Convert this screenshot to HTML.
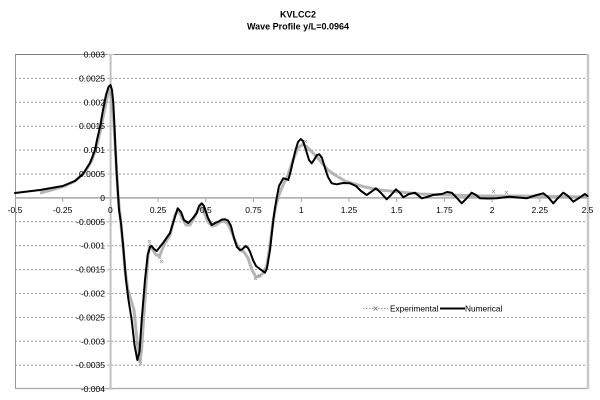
<!DOCTYPE html>
<html>
<head>
<meta charset="utf-8">
<style>
html,body{margin:0;padding:0;background:#fff;}
svg{display:block;}
text{font-family:"Liberation Sans",Arial,sans-serif;fill:#000;}
</style>
</head>
<body>
<svg width="600" height="400" viewBox="0 0 600 400" xmlns="http://www.w3.org/2000/svg">
<rect width="600" height="400" fill="#fff"/>
<!-- title -->
<text x="298" y="17.5" font-size="9" font-weight="bold" text-anchor="middle">KVLCC2</text>
<text x="298" y="29.5" font-size="9" font-weight="bold" text-anchor="middle">Wave Profile y/L=0.0964</text>

<!-- gridlines -->
<g stroke="#9a9a9a" stroke-width="1" stroke-dasharray="2,2">
<line x1="15" y1="78.4" x2="587" y2="78.4"/>
<line x1="15" y1="102.3" x2="587" y2="102.3"/>
<line x1="15" y1="126.2" x2="587" y2="126.2"/>
<line x1="15" y1="150.1" x2="587" y2="150.1"/>
<line x1="15" y1="174.0" x2="587" y2="174.0"/>
<line x1="15" y1="221.8" x2="587" y2="221.8"/>
<line x1="15" y1="245.7" x2="587" y2="245.7"/>
<line x1="15" y1="269.6" x2="587" y2="269.6"/>
<line x1="15" y1="293.5" x2="587" y2="293.5"/>
<line x1="15" y1="317.4" x2="587" y2="317.4"/>
<line x1="15" y1="341.3" x2="587" y2="341.3"/>
<line x1="15" y1="365.2" x2="587" y2="365.2"/>
</g>

<!-- plot border -->
<line x1="15" y1="54.5" x2="588" y2="54.5" stroke="#808080" stroke-width="1"/>
<line x1="15.5" y1="54.5" x2="15.5" y2="389" stroke="#999" stroke-width="1"/>
<line x1="15" y1="388.5" x2="588" y2="388.5" stroke="#aaa" stroke-width="1.2"/>
<line x1="588" y1="54" x2="588" y2="389" stroke="#c8c8c8" stroke-width="2.5"/>

<!-- axes -->
<line x1="15" y1="197.9" x2="588" y2="197.9" stroke="#a8a8a8" stroke-width="1.5"/>
<line x1="110.6" y1="54.5" x2="110.6" y2="389" stroke="#c0c0c0" stroke-width="2"/>

<!-- x ticks -->
<g stroke="#a8a8a8" stroke-width="1">
<line x1="15.5" y1="198" x2="15.5" y2="202"/>
<line x1="62.7" y1="198" x2="62.7" y2="202"/>
<line x1="158.1" y1="198" x2="158.1" y2="202"/>
<line x1="205.8" y1="198" x2="205.8" y2="202"/>
<line x1="253.5" y1="198" x2="253.5" y2="202"/>
<line x1="301.3" y1="198" x2="301.3" y2="202"/>
<line x1="349" y1="198" x2="349" y2="202"/>
<line x1="396.7" y1="198" x2="396.7" y2="202"/>
<line x1="444.4" y1="198" x2="444.4" y2="202"/>
<line x1="492.1" y1="198" x2="492.1" y2="202"/>
<line x1="539.8" y1="198" x2="539.8" y2="202"/>
</g>
<!-- y ticks -->
<g stroke="#c0c0c0" stroke-width="1">
<line x1="107" y1="54.5" x2="114" y2="54.5"/>
<line x1="107" y1="78.4" x2="114" y2="78.4"/>
<line x1="107" y1="102.3" x2="114" y2="102.3"/>
<line x1="107" y1="126.2" x2="114" y2="126.2"/>
<line x1="107" y1="150.1" x2="114" y2="150.1"/>
<line x1="107" y1="174.0" x2="114" y2="174.0"/>
<line x1="107" y1="221.8" x2="114" y2="221.8"/>
<line x1="107" y1="245.7" x2="114" y2="245.7"/>
<line x1="107" y1="269.6" x2="114" y2="269.6"/>
<line x1="107" y1="293.5" x2="114" y2="293.5"/>
<line x1="107" y1="317.4" x2="114" y2="317.4"/>
<line x1="107" y1="341.3" x2="114" y2="341.3"/>
<line x1="107" y1="365.2" x2="114" y2="365.2"/>
<line x1="107" y1="389" x2="114" y2="389"/>
</g>

<!-- experimental series (gray band with x markers) -->
<polyline fill="none" stroke="#a8a8a8" stroke-width="3" stroke-linejoin="round" opacity="0.85"
points="40,193 55,189 65,186 75,181 85,172 92,160 97,145 101,128 104,112 107,98 109.5,90 111,92 112.5,105 114,125 116,160 118,195 120,215 123,245 125,270 128,290 131,300 134,310 136,330 137.5,345 139,358 140,362 141.5,350 143.5,320 146,285 148,255 150,245 153,250 156,255 160,255 164,245 170,235 175,215 178,210 182,218 186,225 190,225 194,218 198,210 201,207 204,212 208,222 212,226 216,225 220,222 224,221 228,224 232,233 236,243 240,250 244,252 248,258 252,270 256,277 260,276 264,272 267,265 270,245 273,222 276,205 279,195 283,185 288,175 293,160 298,148 303,144 307,147 312,152 317,157 322,163 328,170 335,175 345,181 355,184 365,187 380,190 400,192 420,194 450,195 480,196 500,196 520,196 550,196.5 587,197"/>
<g stroke="#9a9a9a" stroke-width="0.8" fill="none">
<path d="M136,342l3,3m0,-3l-3,3 M138,358l3,3m0,-3l-3,3 M139,362l3,3m0,-3l-3,3 M148,240l3,3m0,-3l-3,3 M158,256l3,3m0,-3l-3,3 M160,260l3,3m0,-3l-3,3 M254,277l3,3m0,-3l-3,3 M258,274l3,3m0,-3l-3,3 M492,190l3,3m0,-3l-3,3 M505,191l3,3m0,-3l-3,3 M304,140l3,3m0,-3l-3,3 M126,290l3,3m0,-3l-3,3"/>
</g>

<!-- numerical series -->
<polyline fill="none" stroke="#000" stroke-width="2" stroke-linejoin="round" stroke-linecap="round"
points="15,193 40,190 62.7,186 75,181 83,174 90,163 95,150 97,140 100,127 103,110 106,95 108.5,87 110.5,85 112,90 113.3,103 114.5,127 115.5,150 116.7,174 118.3,198 119,210 121,223 123.5,250 126,280 128.5,300 131.7,320 134.5,345 137.3,360 139.5,352 141.7,320 145,280 147.7,255 150,247 151.7,246 154,249 156.7,251 163,243 170,233 174,220 177.7,208.3 181,212 184,220 188.3,223 193,218 196.7,213 199,206 201.7,203.3 204,206 208,218 211.7,225 215,223 218.3,221.7 222,219.5 225,219.3 228,220.5 231,226 234,238 237,247 240,250 242,249.5 245.7,246 248,248 250,251.7 253,260 256,266 260,269 265,272.7 267,268 270,250 273.3,220 275,208 276.7,198 279,186 283.3,178.3 286,179 288.3,180 291,170 295,152 298,142 300.7,139 303,141 306,150 309,160 311.7,163.3 314,160 317,155 319.3,154.3 322,158 325,168 328,177 331.7,183.3 336.7,184.3 343,183 350,183.3 356,186 361,191 366.7,195 371,192 376,188.3 381,193 386.7,199.3 391,195 396,189.3 400,193 403.3,197.3 409,194 415,192.7 421.7,198.3 427,197 433,195 442,194 447,192 451.7,192.7 456,197 461.7,203.3 466,199 471.7,192.7 476,195 480,198.3 488,198.5 496.7,198.3 503,197.5 510,196.7 518,197.5 526.7,198.3 535,195.5 543.3,193.3 548,197 553.3,203.3 558,198 563.3,192.7 568,196 573.3,201.7 579,198 585,194 587.5,196"/>

<!-- y labels -->
<g font-size="8.5" text-anchor="end">
<text x="105" y="57.5">0.003</text>
<text x="105" y="81.4">0.0025</text>
<text x="105" y="105.3">0.002</text>
<text x="105" y="129.2">0.0015</text>
<text x="105" y="153.1">0.001</text>
<text x="105" y="177.0">0.0005</text>
<text x="105" y="200.9">0</text>
<text x="105" y="224.8">-0.0005</text>
<text x="105" y="248.7">-0.001</text>
<text x="105" y="272.6">-0.0015</text>
<text x="105" y="296.5">-0.002</text>
<text x="105" y="320.4">-0.0025</text>
<text x="105" y="344.3">-0.003</text>
<text x="105" y="368.2">-0.0035</text>
<text x="105" y="392.1">-0.004</text>
</g>

<!-- x labels -->
<g font-size="8.5" text-anchor="middle">
<text x="15" y="213">-0.5</text>
<text x="62.7" y="213">-0.25</text>
<text x="110.4" y="213">0</text>
<text x="158.1" y="213">0.25</text>
<text x="205.8" y="213">0.5</text>
<text x="253.5" y="213">0.75</text>
<text x="301.3" y="213">1</text>
<text x="349" y="213">1.25</text>
<text x="396.7" y="213">1.5</text>
<text x="444.4" y="213">1.75</text>
<text x="492.1" y="213">2</text>
<text x="539.8" y="213">2.25</text>
<text x="587.5" y="213">2.5</text>
</g>

<!-- legend -->
<rect x="360" y="300" width="150" height="17" fill="#fff"/>
<line x1="363" y1="308.5" x2="388" y2="308.5" stroke="#999" stroke-width="1" stroke-dasharray="1.5,1.5"/>
<path d="M373.5,306.5l4,4m0,-4l-4,4" stroke="#888" stroke-width="0.9" fill="none"/>
<text x="390" y="311.5" font-size="8.3">Experimental</text>
<line x1="440" y1="308.5" x2="465" y2="308.5" stroke="#000" stroke-width="2"/>
<text x="465" y="311.5" font-size="8.3">Numerical</text>
</svg>
</body>
</html>
